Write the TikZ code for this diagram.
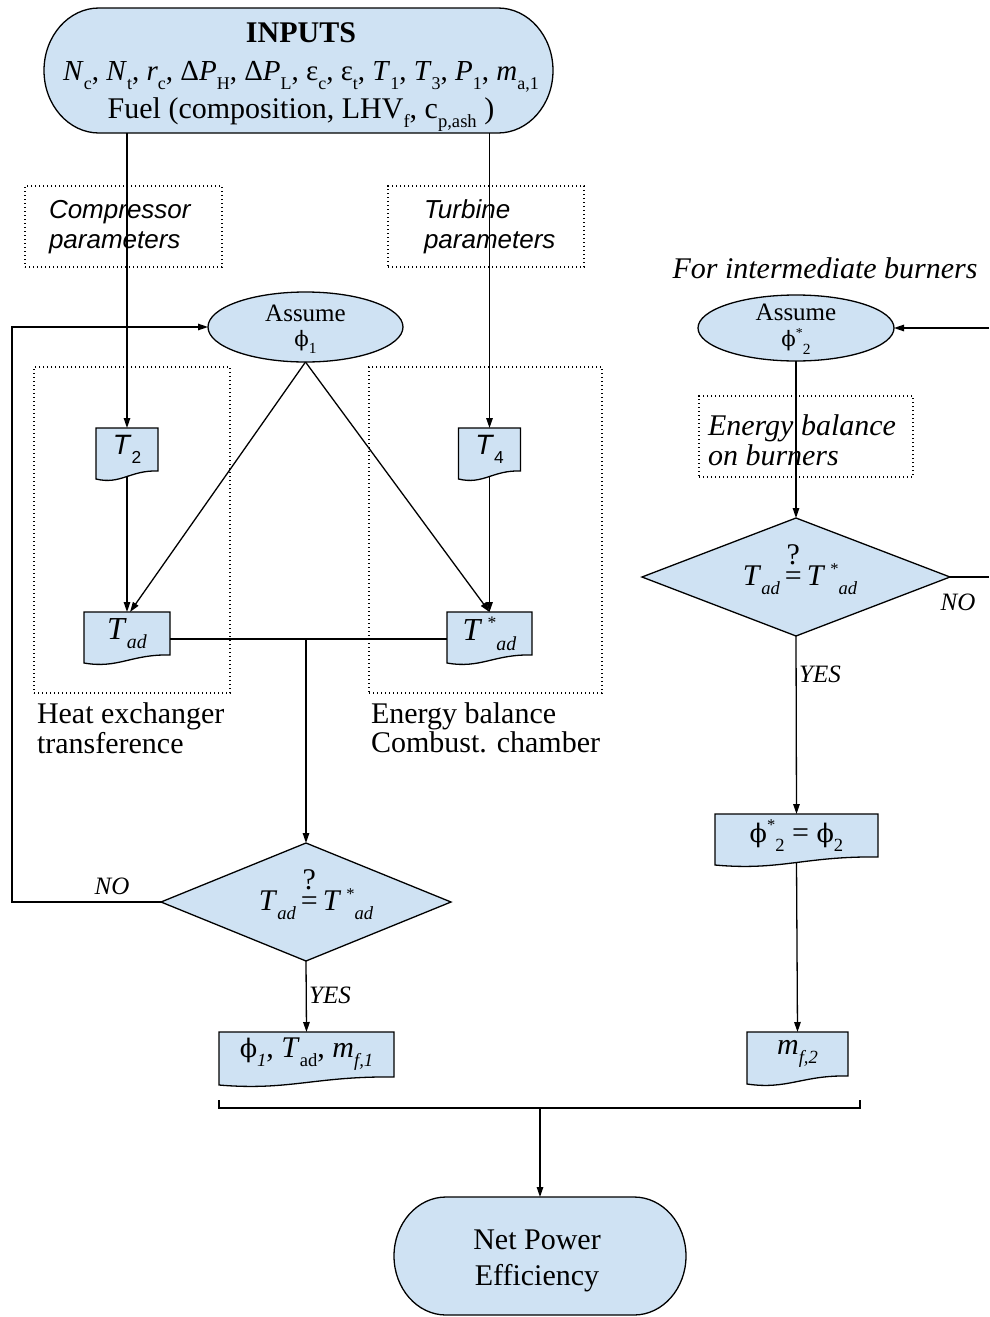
\documentclass[tikz,border=0pt]{standalone}
\usepackage{fontspec}
\setmainfont{Liberation Serif}
\setsansfont{Liberation Sans}
\newfontfamily\phifont[Scale=0.85]{DejaVu Serif}
\usetikzlibrary{arrows.meta,backgrounds,calc}
\definecolor{boxfill}{RGB}{207,226,243}
\newcommand{\ph}{{\phifont ϕ}}
\newcommand{\sbs}[1]{\raisebox{-0.3em}{\scalebox{0.62}{#1}}}
\newcommand{\sps}[1]{\raisebox{0.5em}{\scalebox{0.62}{#1}}}
\newcommand{\spl}[1]{\raisebox{0.38em}{\scalebox{0.55}{#1}}}
\newcommand{\qeq}{\ooalign{=\cr\hidewidth\raisebox{0.7em}{?}\hidewidth\cr}}
\newcommand{\stadium}[2]{%
  \path[shapefill] let \p1=(#1.north west), \p2=(#1.south east) in
  (\x1+#2pt,\y1) -- (\x2-#2pt,\y1)
  arc[start angle=90,end angle=-90,x radius=#2pt,y radius={(\y1-\y2)/2}]
  -- (\x1+#2pt,\y2)
  arc[start angle=270,end angle=90,x radius=#2pt,y radius={(\y1-\y2)/2}] -- cycle;}
\newcommand{\docshape}[1]{%
  \path[shapefill] let \p1=(#1.north west), \p2=(#1.south east), \n1={\x2-\x1} in
  (\x1,\y1) -- (\x2,\y1) -- (\x2,\y2)
  .. controls (\x2-0.45*\n1,\y2+1) and (\x1+0.4*\n1,\y2-14) .. (\x1,\y2-8) -- cycle;}
\newcommand{\diamshape}[1]{%
  \path[shapefill] (#1.north) -- (#1.east) -- (#1.south) -- (#1.west) -- cycle;}
\newcommand{\ellshape}[1]{%
  \path[shapefill] let \p1=(#1.north west), \p2=(#1.south east) in
  (#1.center) ellipse[x radius={(\x2-\x1)/2}, y radius={(\y1-\y2)/2}];}
\tikzset{
  every node/.style={inner sep=0pt, outer sep=0pt},
  shapefill/.style={draw, fill=boxfill, line width=1.3pt},
  flow/.style={line width=1.3pt},
  arr/.style={flow, -{Triangle[length=10pt,width=6.5pt]}},
  dotbox/.style={draw, line width=1.2pt, dash pattern=on 1.2pt off 2.8pt},
  big/.style={font=\fontsize{30}{38}\selectfont},
  mid/.style={font=\fontsize{25}{26}\selectfont},
  sfi/.style={font=\fontsize{26}{30}\selectfont\sffamily\itshape, align=left},
  lab/.style={font=\fontsize{25}{28}\selectfont\itshape},
}
\begin{document}
\begin{tikzpicture}[x=1pt,y=-1pt]
\useasboundingbox (0,0) rectangle (989,1317);

% ---------- nodes ----------
\node[minimum width=509, minimum height=125] (inputs) at (298.5,70.5) {};
\node[big, align=center] (inputstext) at (301,77)
  {{\bfseries INPUTS}\\
   {\fontsize{29}{38}\selectfont\textit{N}\sbs{c}, \textit{N}\sbs{t}, \textit{r}\sbs{c}, Δ\textit{P}\sbs{H}, Δ\textit{P}\sbs{L}, ε\sbs{c}, ε\sbs{t}, \textit{T}\sbs{1}, \textit{T}\sbs{3}, \textit{P}\sbs{1}, \textit{m}\sbs{a,1}}\\
   Fuel (composition, LHV\sbs{f}, c\sbs{p,ash} )};

\node[dotbox, minimum width=197, minimum height=81] (cbox) at (123.5,226.5) {};
\node[sfi, anchor=west] (ctext) at (49,227) {Compressor\\parameters};
\node[dotbox, minimum width=196, minimum height=81] (tbox) at (486,226.5) {};
\node[sfi, anchor=west] (ttext) at (424,227) {Turbine\\parameters};

\node[big, font=\fontsize{30}{34}\selectfont\itshape] (inter) at (825,268) {For intermediate burners};

\node[minimum width=195, minimum height=70] (e1) at (305.5,327) {};
\node[mid, align=center] (e1text) at (305.5,329) {Assume\\[-1pt]\ph\sbs{1}};
\node[minimum width=196, minimum height=66] (e2) at (796,328) {};
\node[mid, align=center] (e2text) at (796,329) {Assume\\[0pt]\ph\spl{*}\sbs{2}};

\node[dotbox, minimum width=196, minimum height=326] (hxbox) at (132,530) {};
\node[dotbox, minimum width=233, minimum height=326] (ecbox) at (485.5,530) {};
\node[big, font=\fontsize{30}{29.5}\selectfont, align=left, anchor=west] (hxtext) at (37,728)
  {Heat exchanger\\transference};
\node[big, font=\fontsize{30}{29.5}\selectfont, align=left, anchor=west] (ectext) at (371,728)
  {Energy balance\\Combust. chamber};

\node[dotbox, minimum width=214, minimum height=81] (bbox) at (806,436.5) {};
\node[big, font=\fontsize{30}{30}\selectfont\itshape, align=left, anchor=west] (btext) at (708,440)
  {Energy balance\\on burners};

\node[font=\fontsize{28}{30}\selectfont, minimum width=62, minimum height=43] (T2) at (127,449.5)
  {\textsf{\textit{T}\sbs{2}}};
\node[font=\fontsize{28}{30}\selectfont, minimum width=62, minimum height=43] (T4) at (489.5,449.5)
  {\textsf{\textit{T}\sbs{4}}};
\node[font=\fontsize{32}{34}\selectfont, minimum width=86, minimum height=43] (Tad) at (127,633.5)
  {\textit{T}\sbs{\textit{ad}}};
\node[font=\fontsize{32}{34}\selectfont, minimum width=85, minimum height=43] (Tstar) at (489.5,633.5)
  {\textit{T}\,\spl{*}\sbs{\textit{ad}}};

\node[minimum width=290, minimum height=118] (d1) at (306,902) {};
\node[font=\fontsize{30}{34}\selectfont] (d1text) at (316,904)
  {\textit{T}\sbs{\textit{ad}}\,\qeq\,\textit{T}\,\spl{*}\sbs{\textit{ad}}};
\node[minimum width=308, minimum height=118] (d2) at (796,577) {};
\node[font=\fontsize{30}{34}\selectfont] (d2text) at (800,579)
  {\textit{T}\sbs{\textit{ad}}\,\qeq\,\textit{T}\,\spl{*}\sbs{\textit{ad}}};

\node[big, minimum width=175, minimum height=45] (res1) at (306.5,1054.5)
  {\ph\sbs{\textit{1}}, \textit{T}\sbs{ad}, \textit{m}\sbs{\textit{f,1}}};
\node[big, minimum width=163, minimum height=43] (res2) at (796.5,835.5)
  {\ph\spl{*}\sbs{2} = \ph\sbs{2}};
\node[big, minimum width=101, minimum height=44] (mf2) at (797.5,1054)
  {\textit{m}\sbs{\textit{f,2}}};

\node[minimum width=292, minimum height=118] (net) at (540,1256) {};
\node[big, font=\fontsize{30}{36}\selectfont, align=center] (nettext) at (537,1261)
  {Net Power\\Efficiency};

\node[lab] (no1) at (112,886) {NO};
\node[lab] (yes1) at (330,995) {YES};
\node[lab] (no2) at (958,602) {NO};
\node[lab] (yes2) at (820,674) {YES};

% ---------- shapes (background) ----------
\begin{scope}[on background layer]
  \stadium{inputs}{55}
  \stadium{net}{52}
  \ellshape{e1}
  \ellshape{e2}
  \docshape{T2}
  \docshape{T4}
  \docshape{Tad}
  \docshape{Tstar}
  \docshape{res1}
  \docshape{res2}
  \docshape{mf2}
  \diamshape{d1}
  \diamshape{d2}
\end{scope}

% ---------- coordinates ----------
\coordinate (jL) at ($(Tad.east)+(0,5.5)$);
\coordinate (jR) at ($(Tstar.west)+(0,5.5)$);
\coordinate (junc) at (d1.north |- jL);
\coordinate (loopX) at (12,0);
\coordinate (rin) at (989,328);
\coordinate (rout) at (989,577);
\coordinate (brL) at (219,1108);
\coordinate (brR) at (860,1108);
\coordinate (brLt) at (219,1100);
\coordinate (brRt) at (860,1100);

% ---------- connectors ----------
\draw[arr] (inputs.south -| T2.north) -- (T2.north);
\draw[arr] (inputs.south -| T4.north) -- (T4.north);
\draw[arr] ($(T2.south)+(0,5)$) -- (Tad.north);
\draw[arr] ($(T4.south)+(0,5)$) -- (Tstar.north);
\draw[arr] (e1.south) -- ($(Tad.north)+(3,0)$);
\draw[arr] (e1.south) -- (Tstar.north);
\draw[flow] (jL) -- (jR);
\draw[arr] (junc) -- (d1.north);
\draw[arr] (d1.west) -- (d1.west -| loopX) |- (e1.west);
\draw[arr] (d1.south) -- (res1.north);
\draw[flow] (brLt) -- (brL) -- (brR) -- (brRt);
\draw[arr] (net.north |- brL) -- (net.north);

\draw[arr] (rin) -- (e2.east);
\draw[arr] (e2.south) -- (d2.north);
\draw[flow] (d2.east) -- (rout);
\draw[arr] (d2.south) -- (res2.north);
\draw[arr] ($(res2.south)+(0,5)$) -- (mf2.north);
\end{tikzpicture}
\end{document}
